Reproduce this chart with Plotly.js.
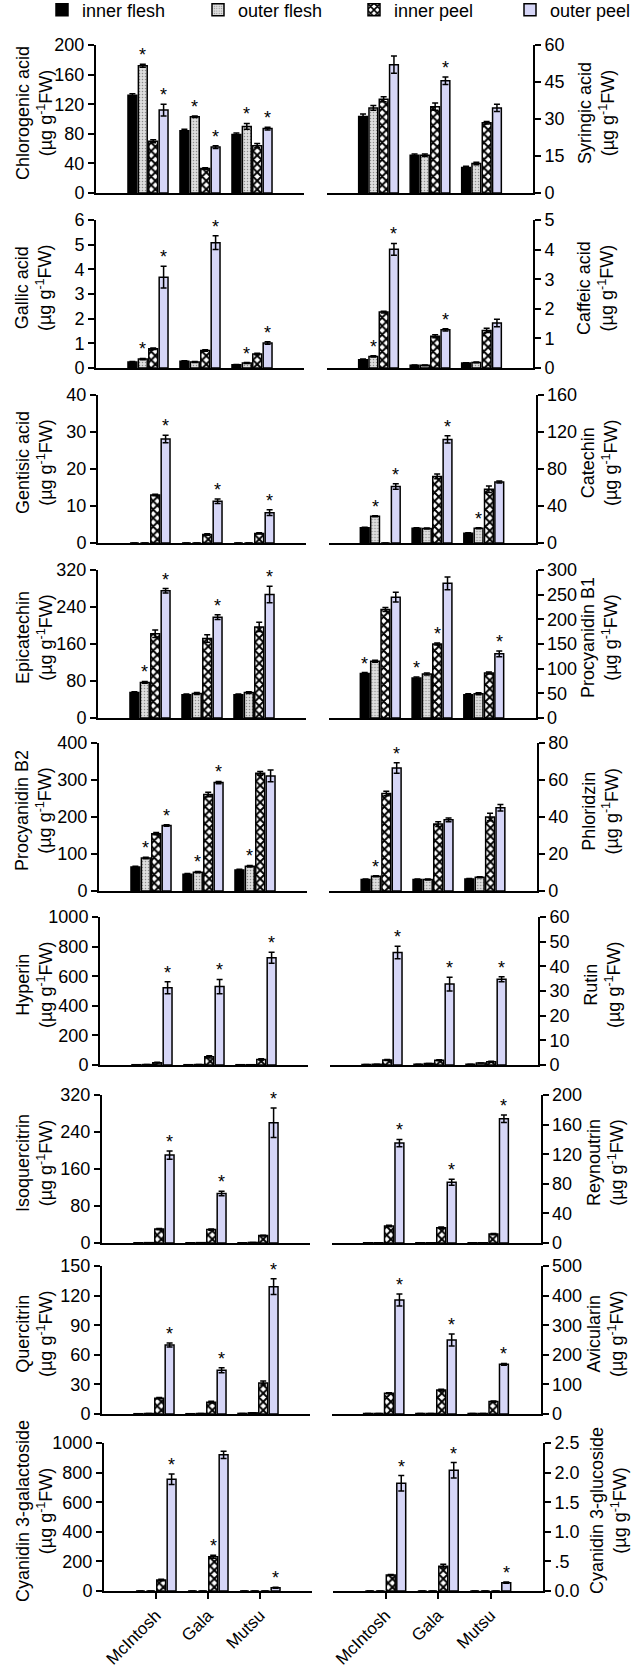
<!DOCTYPE html>
<html>
<head>
<meta charset="utf-8">
<script src="https://cdn.plot.ly/plotly-3.0.1.min.js"></script>
<style>
  body { margin: 0; background: #fff; }
  #plot { width: 640px; height: 1666px; }
</style>
</head>
<body>
<div id="plot"></div>
<script>
// phenolic compounds in four apple tissues of three cultivars (ug g-1 FW)
const cultivars = ["McIntosh", "Gala", "Mutsu"];
const tissues = ["inner flesh", "outer flesh", "inner peel", "outer peel"];

// rows = tissues, columns = cultivars
const chlorogenicAcid = [[132, 84, 79], [172, 103, 90], [70, 33, 64], [112, 62, 87]];
const chlorogenicAcidErr = [[2, 2, 2], [2, 1, 4], [2, 1, 3], [8, 2, 2]];
const chlorogenicAcidSig = [[0, 0, 0], [1, 1, 1], [0, 0, 0], [1, 1, 1]];

const syringicAcid = [[31, 15.3, 10.3], [34.5, 15.3, 12], [38, 35, 28.5], [52, 45.5, 34.5]];
const syringicAcidErr = [[1, 0.5, 0.5], [1, 0.5, 0.5], [1, 1.5, 0.5], [3.5, 1.5, 1.5]];
const syringicAcidSig = [[0, 0, 0], [0, 0, 0], [0, 0, 0], [0, 1, 0]];

const gallicAcid = [[0.24, 0.27, 0.13], [0.36, 0.24, 0.2], [0.78, 0.71, 0.57], [3.68, 5.08, 1.01]];
const gallicAcidErr = [[0.02, 0.02, 0.01], [0.03, 0.02, 0.02], [0.03, 0.03, 0.03], [0.44, 0.28, 0.05]];
const gallicAcidSig = [[0, 0, 0], [1, 0, 1], [0, 0, 0], [1, 1, 1]];

const caffeicAcid = [[0.28, 0.09, 0.17], [0.39, 0.09, 0.19], [1.89, 1.07, 1.27], [4.01, 1.29, 1.52]];
const caffeicAcidErr = [[0.02, 0.01, 0.01], [0.02, 0.01, 0.01], [0.03, 0.05, 0.07], [0.2, 0.04, 0.13]];
const caffeicAcidSig = [[0, 0, 0], [1, 0, 0], [0, 0, 0], [1, 1, 0]];

const gentisicAcid = [[0, 0, 0], [0, 0, 0], [13, 2.3, 2.6], [28.1, 11.3, 8.2]];
const gentisicAcidErr = [[0, 0, 0], [0, 0, 0], [0.2, 0.2, 0.2], [1, 0.6, 0.8]];
const gentisicAcidSig = [[0, 0, 0], [0, 0, 0], [0, 0, 0], [1, 1, 1]];

const catechin = [[16.5, 16, 10.5], [29, 15.7, 16], [0, 72, 58], [61, 112, 66]];
const catechinErr = [[0.5, 0.5, 0.5], [0.5, 0.5, 0.5], [0, 2.5, 3.5], [3, 4, 1]];
const catechinSig = [[0, 0, 0], [1, 0, 1], [0, 0, 0], [1, 1, 0]];

const epicatechin = [[55, 50, 50], [77, 53, 55], [182, 172, 197], [275, 218, 267]];
const epicatechinErr = [[2, 2, 2], [2, 2, 2], [8, 8, 10], [5, 5, 18]];
const epicatechinSig = [[0, 0, 0], [1, 0, 0], [0, 0, 0], [1, 1, 1]];

const procyanidinB1 = [[90, 81, 47], [115, 89, 49], [220, 150, 91], [245, 273, 130]];
const procyanidinB1Err = [[2, 2, 2], [2, 2, 2], [4, 2, 2], [10, 13, 6]];
const procyanidinB1Sig = [[1, 1, 0], [0, 0, 0], [0, 1, 0], [0, 0, 1]];

const procyanidinB2 = [[65, 45, 57], [89, 51, 67], [155, 261, 318], [177, 293, 311]];
const procyanidinB2Err = [[2, 2, 2], [2, 2, 2], [3, 6, 5], [2, 3, 16]];
const procyanidinB2Sig = [[0, 0, 0], [1, 1, 1], [0, 0, 0], [1, 1, 0]];

const phloridzin = [[6.2, 6.2, 6.5], [8, 6.2, 7.4], [52.7, 36.2, 40], [66.5, 38.5, 45]];
const phloridzinErr = [[0.3, 0.3, 0.3], [0.3, 0.3, 0.3], [1.2, 1.3, 2], [2.8, 1, 1.8]];
const phloridzinSig = [[0, 0, 0], [1, 0, 0], [0, 0, 0], [1, 0, 0]];

const hyperin = [[2, 2, 2], [3, 3, 2], [16, 55, 38], [522, 530, 725]];
const hyperinErr = [[0, 0, 0], [0, 0, 0], [2, 8, 5], [40, 48, 37]];
const hyperinSig = [[0, 0, 0], [0, 0, 0], [0, 0, 0], [1, 1, 1]];

const rutin = [[0.2, 0.3, 0.3], [0.3, 0.6, 0.8], [2, 1.9, 1.3], [45.6, 32.8, 34.8]];
const rutinErr = [[0, 0, 0], [0, 0, 0], [0.2, 0.2, 0.2], [2.5, 2.8, 1]];
const rutinSig = [[0, 0, 0], [0, 0, 0], [0, 0, 0], [1, 1, 1]];

const isoquercitrin = [[0.5, 0.5, 0.5], [0.8, 0.8, 1.2], [30, 29, 16], [190, 107, 260]];
const isoquercitrinErr = [[0, 0, 0], [0, 0, 0], [1.5, 1.5, 1], [9, 5, 32]];
const isoquercitrinSig = [[0, 0, 0], [0, 0, 0], [0, 0, 0], [1, 1, 1]];

const reynoutrin = [[0.3, 0.3, 0.3], [0.5, 0.5, 0.5], [23, 20.5, 12], [135, 82, 168]];
const reynoutrinErr = [[0, 0, 0], [0, 0, 0], [1, 1, 1], [5, 4, 5]];
const reynoutrinSig = [[0, 0, 0], [0, 0, 0], [0, 0, 0], [1, 1, 1]];

const quercitrin = [[0.3, 0.3, 0.6], [0.5, 0.5, 1.2], [16, 12, 31.4], [70, 44.4, 129]];
const quercitrinErr = [[0, 0, 0], [0, 0, 0], [0.6, 0.8, 2], [2, 2.5, 8]];
const quercitrinSig = [[0, 0, 0], [0, 0, 0], [0, 0, 0], [1, 1, 1]];

const avicularin = [[2, 2, 2], [2, 2, 2], [70, 81, 42], [385, 250, 168]];
const avicularinErr = [[0, 0, 0], [0, 0, 0], [2, 3, 2], [20, 20, 3]];
const avicularinSig = [[0, 0, 0], [0, 0, 0], [0, 0, 0], [1, 1, 1]];

const cyanidinGalactoside = [[0, 0, 0], [0, 0, 0], [75, 232, 0], [755, 920, 22]];
const cyanidinGalactosideErr = [[0, 0, 0], [0, 0, 0], [5, 10, 0], [35, 25, 3]];
const cyanidinGalactosideSig = [[0, 0, 0], [0, 0, 0], [0, 1, 0], [1, 0, 1]];

const cyanidinGlucoside = [[0, 0, 0], [0, 0, 0], [0.27, 0.42, 0], [1.82, 2.04, 0.14]];
const cyanidinGlucosideErr = [[0, 0, 0], [0, 0, 0], [0.01, 0.03, 0], [0.13, 0.13, 0.01]];
const cyanidinGlucosideSig = [[0, 0, 0], [0, 0, 0], [0, 0, 0], [1, 1, 1]];

const glucosideTicks = [0, 0.5, 1, 1.5, 2, 2.5];
const glucosideTickText = ["0.0", ".5", "1.0", "1.5", "2.0", "2.5"];

const unit = "(µg g<sup>-1</sup>FW)";

// panels in reading order: left, right, left, right ...
const panels = [
  { label: "Chlorogenic acid", mean: chlorogenicAcid, err: chlorogenicAcidErr, sig: chlorogenicAcidSig, max: 200, step: 40 },
  { label: "Syringic acid", mean: syringicAcid, err: syringicAcidErr, sig: syringicAcidSig, max: 60, step: 15 },
  { label: "Gallic acid", mean: gallicAcid, err: gallicAcidErr, sig: gallicAcidSig, max: 6, step: 1 },
  { label: "Caffeic acid", mean: caffeicAcid, err: caffeicAcidErr, sig: caffeicAcidSig, max: 5, step: 1 },
  { label: "Gentisic acid", mean: gentisicAcid, err: gentisicAcidErr, sig: gentisicAcidSig, max: 40, step: 10 },
  { label: "Catechin", mean: catechin, err: catechinErr, sig: catechinSig, max: 160, step: 40 },
  { label: "Epicatechin", mean: epicatechin, err: epicatechinErr, sig: epicatechinSig, max: 320, step: 80 },
  { label: "Procyanidin B1", mean: procyanidinB1, err: procyanidinB1Err, sig: procyanidinB1Sig, max: 300, step: 50 },
  { label: "Procyanidin B2", mean: procyanidinB2, err: procyanidinB2Err, sig: procyanidinB2Sig, max: 400, step: 100 },
  { label: "Phloridzin", mean: phloridzin, err: phloridzinErr, sig: phloridzinSig, max: 80, step: 20 },
  { label: "Hyperin", mean: hyperin, err: hyperinErr, sig: hyperinSig, max: 1000, step: 200 },
  { label: "Rutin", mean: rutin, err: rutinErr, sig: rutinSig, max: 60, step: 10 },
  { label: "Isoquercitrin", mean: isoquercitrin, err: isoquercitrinErr, sig: isoquercitrinSig, max: 320, step: 80 },
  { label: "Reynoutrin", mean: reynoutrin, err: reynoutrinErr, sig: reynoutrinSig, max: 200, step: 40 },
  { label: "Quercitrin", mean: quercitrin, err: quercitrinErr, sig: quercitrinSig, max: 150, step: 30 },
  { label: "Avicularin", mean: avicularin, err: avicularinErr, sig: avicularinSig, max: 500, step: 100 },
  { label: "Cyanidin 3-galactoside", mean: cyanidinGalactoside, err: cyanidinGalactosideErr, sig: cyanidinGalactosideSig, max: 1000, step: 200 },
  { label: "Cyanidin 3-glucoside", mean: cyanidinGlucoside, err: cyanidinGlucosideErr, sig: cyanidinGlucosideSig, max: 2.5, step: 0.5,
    tickvals: glucosideTicks, ticktext: glucosideTickText },
];

// --- look of the four tissues ---
const tissueMarkers = [
  { color: "#000000" },
  { color: "#d9d9d9", pattern: { shape: ".", bgcolor: "#dedede", fgcolor: "#8c8c8c", size: 3, solidity: 0.2 } },
  { color: "#ffffff", pattern: { shape: "x", bgcolor: "#ffffff", fgcolor: "#000000", size: 6, solidity: 0.55 } },
  { color: "#d6d6f7" },
];

// --- page geometry (px) ---
const W = 640, H = 1666;
const rowTop = [45, 220, 395, 570, 743, 917, 1095, 1266, 1443];
const rowShift = [0, 0, 2, 2, 3, 4, 6, 6, 8];
const panelH = 148;
const bargap = 0.2;
const slot = (1 - bargap) / tissues.length;
const font = "Liberation Sans, Arial, sans-serif";

const traces = [];
const annotations = [];
const layout = {
  width: W,
  height: H,
  margin: { l: 0, r: 0, t: 0, b: 0, autoexpand: false },
  paper_bgcolor: "#fff",
  plot_bgcolor: "rgba(0,0,0,0)",
  font: { family: font, size: 18, color: "#000" },
  barmode: "group",
  bargap: bargap,
  bargroupgap: 0.15,
  hovermode: false,
  showlegend: true,
  legend: {
    orientation: "h",
    x: 42 / W,
    y: 1.005,
    xanchor: "left",
    yanchor: "top",
    font: { size: 18 },
    itemwidth: 30,
    entrywidth: 111,
    entrywidthmode: "pixels",
    bgcolor: "rgba(0,0,0,0)",
    traceorder: "normal",
  },
};

panels.forEach((p, i) => {
  const row = Math.floor(i / 2);
  const col = i % 2;
  const n = i + 1;
  const xId = "x" + (n === 1 ? "" : n);
  const yId = "y" + (n === 1 ? "" : n);
  const o = rowShift[row];
  const top = rowTop[row];
  const x0 = col === 0 ? 96 + o : 327 + o * 0.75;
  const x1 = col === 0 ? 304 + o : 533 + o * 1.25;

  tissues.forEach((t, s) => {
    traces.push({
      type: "bar",
      name: t,
      x: cultivars,
      y: p.mean[s],
      xaxis: xId,
      yaxis: yId,
      legendgroup: t,
      showlegend: i === 0,
      marker: Object.assign({ line: { color: "#000", width: 1.5 } }, tissueMarkers[s]),
      error_y: {
        type: "data",
        array: p.err[s],
        visible: true,
        color: "#000",
        thickness: 1.5,
        width: 3,
      },
    });

    // asterisks above the significant bars
    p.sig[s].forEach((flag, c) => {
      if (!flag) return;
      annotations.push({
        xref: xId,
        yref: yId,
        x: c - (1 - bargap) / 2 + slot * (s + 0.5),
        y: p.mean[s][c] + p.err[s][c],
        text: "*",
        showarrow: false,
        yanchor: "middle",
        yshift: 9,
        font: { size: 18 },
      });
    });
  });

  const bottomRow = row === rowTop.length - 1;
  layout["xaxis" + (n === 1 ? "" : n)] = {
    domain: [x0 / W, x1 / W],
    anchor: yId,
    type: "category",
    range: [-1, 3],
    showline: true,
    linewidth: 2,
    linecolor: "#000",
    showgrid: false,
    zeroline: false,
    showticklabels: bottomRow,
    ticks: bottomRow ? "outside" : "",
    ticklen: 6,
    tickwidth: 2,
    tickcolor: "#000",
    tickangle: -45,
    tickfont: { size: 17 },
    fixedrange: true,
  };

  const yaxis = {
    domain: [1 - (top + panelH) / H, 1 - top / H],
    anchor: xId,
    side: col === 0 ? "left" : "right",
    range: [0, p.max],
    showline: true,
    linewidth: 2,
    linecolor: "#000",
    ticks: "outside",
    ticklen: 6,
    tickwidth: 2,
    tickcolor: "#000",
    showgrid: false,
    zeroline: false,
    tickfont: { size: 18 },
    fixedrange: true,
  };
  if (p.tickvals) {
    yaxis.tickmode = "array";
    yaxis.tickvals = p.tickvals;
    yaxis.ticktext = p.ticktext;
  } else {
    yaxis.tickmode = "linear";
    yaxis.tick0 = 0;
    yaxis.dtick = p.step;
  }
  layout["yaxis" + (n === 1 ? "" : n)] = yaxis;

  // axis title, two lines, rotated
  annotations.push({
    xref: "paper",
    yref: "paper",
    x: (col === 0 ? 34 : 596 + o * 1.5) / W,
    y: 1 - (top + panelH / 2 - 6) / H,
    text: p.label + "<br>" + unit,
    textangle: -90,
    showarrow: false,
    xanchor: "center",
    yanchor: "middle",
    font: { size: 18 },
  });
});

layout.annotations = annotations;

Plotly.newPlot("plot", traces, layout, { staticPlot: true });
</script>
</body>
</html>
